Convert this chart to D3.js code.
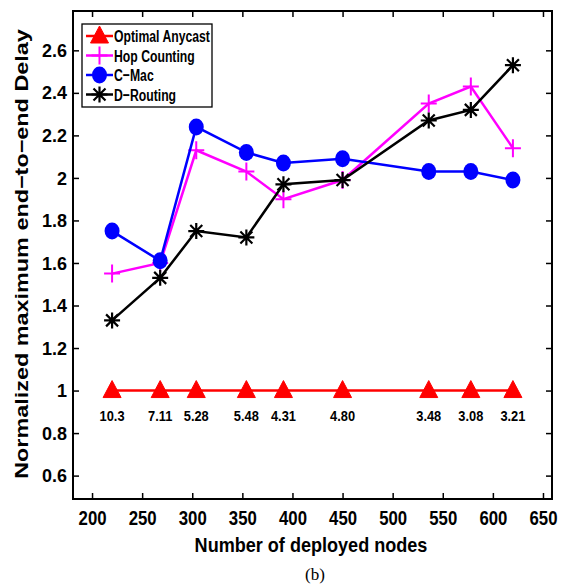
<!DOCTYPE html>
<html>
<head>
<meta charset="utf-8">
<script src="https://cdn.jsdelivr.net/npm/d3@7"></script>
<style>
  body { margin: 0; background: #fff; }
  svg text { font-family: "Liberation Sans", Arial, sans-serif; font-weight: bold; }
</style>
</head>
<body>
<div id="chart"></div>
<script>
// data
var nodes = [220, 268, 304, 354, 391, 450, 536, 578, 620];
var optimal = [1, 1, 1, 1, 1, 1, 1, 1, 1];
var optimalLabels = ["10.3", "7.11", "5.28", "5.48", "4.31", "4.80", "3.48", "3.08", "3.21"];
var hopCounting = [1.55, 1.60, 2.13, 2.03, 1.90, 1.99, 2.35, 2.43, 2.14];
var cMac = [1.75, 1.61, 2.24, 2.12, 2.07, 2.09, 2.03, 2.03, 1.99];
var dRouting = [1.33, 1.53, 1.75, 1.72, 1.97, 1.99, 2.27, 2.32, 2.53];
var xTicks = [200, 250, 300, 350, 400, 450, 500, 550, 600, 650];
var yTicks = [0.6, 0.8, 1, 1.2, 1.4, 1.6, 1.8, 2, 2.2, 2.4, 2.6];

var W = 561, H = 586;
var margin = {top: 11, right: 9, bottom: 87, left: 73};
var w = W - margin.left - margin.right;
var h = H - margin.top - margin.bottom;

var svg = d3.select("#chart").append("svg")
    .attr("width", W)
    .attr("height", H);

var g = svg.append("g")
    .attr("transform", "translate(" + margin.left + "," + margin.top + ")");

var x = d3.scaleLinear().domain([181, 659]).range([0, w]);
var y = d3.scaleLinear().domain([0.49, 2.785]).range([h, 0]);

function fmt(d) { return d3.format("")(+d.toFixed(1)); }

// the original font is condensed: scale text horizontally around its anchor
// so that the first element gets the width measured on the picture
function fitWidth(sel, target) {
  var s = target / sel.node().getComputedTextLength();
  sel.attr("transform", function() {
    var x0 = +d3.select(this).attr("x") || 0;
    return "translate(" + (x0 * (1 - s)) + ",0) scale(" + s + ",1)";
  });
}

// axes, ticks inward on all four sides
var xb = g.append("g").attr("transform", "translate(0," + h + ")")
  .call(d3.axisBottom(x).tickValues(xTicks).tickSizeInner(-6).tickSizeOuter(0).tickPadding(11));
g.append("g")
  .call(d3.axisTop(x).tickValues(xTicks).tickSizeInner(-6).tickSizeOuter(0).tickFormat(""));
var yl = g.append("g")
  .call(d3.axisLeft(y).tickValues(yTicks).tickSizeInner(-6).tickSizeOuter(0).tickPadding(6).tickFormat(fmt));
g.append("g").attr("transform", "translate(" + w + ",0)")
  .call(d3.axisRight(y).tickValues(yTicks).tickSizeInner(-6).tickSizeOuter(0).tickFormat(""));

g.selectAll(".domain").remove();
g.selectAll(".tick line").attr("stroke", "#000").attr("stroke-width", 1.5);
g.selectAll(".tick text").attr("fill", "#000");
xb.selectAll(".tick text").style("font-size", "21px").call(fitWidth, 28);
yl.selectAll(".tick text").style("font-size", "19px").call(fitWidth, 25);

g.append("rect")
  .attr("width", w).attr("height", h)
  .attr("fill", "none").attr("stroke", "#000").attr("stroke-width", 2);

var series = [
  {name: "Optimal Anycast", vals: optimal, color: "#ff0000", marker: "tri"},
  {name: "Hop Counting", vals: hopCounting, color: "#ff00ff", marker: "plus"},
  {name: "C\u2212Mac", vals: cMac, color: "#0000ff", marker: "circle"},
  {name: "D\u2212Routing", vals: dRouting, color: "#000000", marker: "star"}
];

function drawMarker(sel, type, color) {
  if (type == "tri") {
    sel.append("path").attr("d", "M0,-10L9,7L-9,7Z").attr("fill", color).attr("stroke", color);
  } else if (type == "circle") {
    sel.append("ellipse").attr("rx", 7.5).attr("ry", 8.5).attr("fill", color);
  } else if (type == "plus") {
    sel.append("path").attr("d", "M-8,0H8M0,-9V9").attr("stroke", color).attr("stroke-width", 2);
  } else if (type == "star") {
    sel.append("path").attr("d", "M-8,0H8M0,-8V8M-6,-6L6,6M-6,6L6,-6").attr("stroke", color).attr("stroke-width", 2.2);
  }
}

var line = d3.line().x(function(d) { return x(d[0]); }).y(function(d) { return y(d[1]); });

series.forEach(function(s, i) {
  var pts = nodes.map(function(n, j) { return [n, s.vals[j]]; });
  g.append("path").datum(pts)
    .attr("d", line)
    .attr("fill", "none")
    .attr("stroke", s.color)
    .attr("stroke-width", 2.5);
  g.selectAll(".m" + i).data(pts).enter().append("g")
    .attr("transform", function(d) { return "translate(" + x(d[0]) + "," + y(d[1]) + ")"; })
    .each(function() { drawMarker(d3.select(this), s.marker, s.color); });
});

// labels under Optimal Anycast markers
g.selectAll(".optlab").data(nodes).enter().append("text")
  .attr("x", function(d) { return x(d); })
  .attr("y", function(d, i) { return y(optimal[i]) + 30; })
  .attr("text-anchor", "middle")
  .style("font-size", "15px")
  .text(function(d, i) { return optimalLabels[i]; })
  .call(fitWidth, 25);

// legend
var lg = g.append("g").attr("transform", "translate(9,13)");
lg.append("rect").attr("width", 130).attr("height", 83)
  .attr("fill", "#fff").attr("stroke", "#000").attr("stroke-width", 1.3);
var rows = lg.selectAll(".row").data(series).enter().append("g")
  .attr("transform", function(d, i) { return "translate(0," + (12 + i * 19.5) + ")"; });
rows.append("line").attr("x1", 4).attr("x2", 31)
  .attr("stroke", function(d) { return d.color; }).attr("stroke-width", 2.5);
rows.append("g").attr("transform", "translate(17.5,0)")
  .each(function(d) { drawMarker(d3.select(this), d.marker, d.color); });
rows.append("text").attr("x", 32).attr("y", 6)
  .style("font-size", "17px")
  .text(function(d) { return d.name; })
  .call(fitWidth, 96);

// axis titles
svg.append("text")
  .attr("x", 311)
  .attr("y", 552)
  .attr("text-anchor", "middle")
  .style("font-size", "20px")
  .text("Number of deployed nodes")
  .call(fitWidth, 233);

svg.append("g").attr("transform", "translate(28,254) rotate(-90)")
  .append("text")
  .attr("text-anchor", "middle")
  .style("font-size", "19px")
  .text("Normalized maximum end\u2212to\u2212end Delay")
  .call(fitWidth, 450);

svg.append("text")
  .attr("x", 315)
  .attr("y", 580)
  .attr("text-anchor", "middle")
  .style("font-family", "'Liberation Serif', 'Times New Roman', serif")
  .style("font-weight", "normal")
  .style("font-size", "17px")
  .text("(b)");
</script>
</body>
</html>
